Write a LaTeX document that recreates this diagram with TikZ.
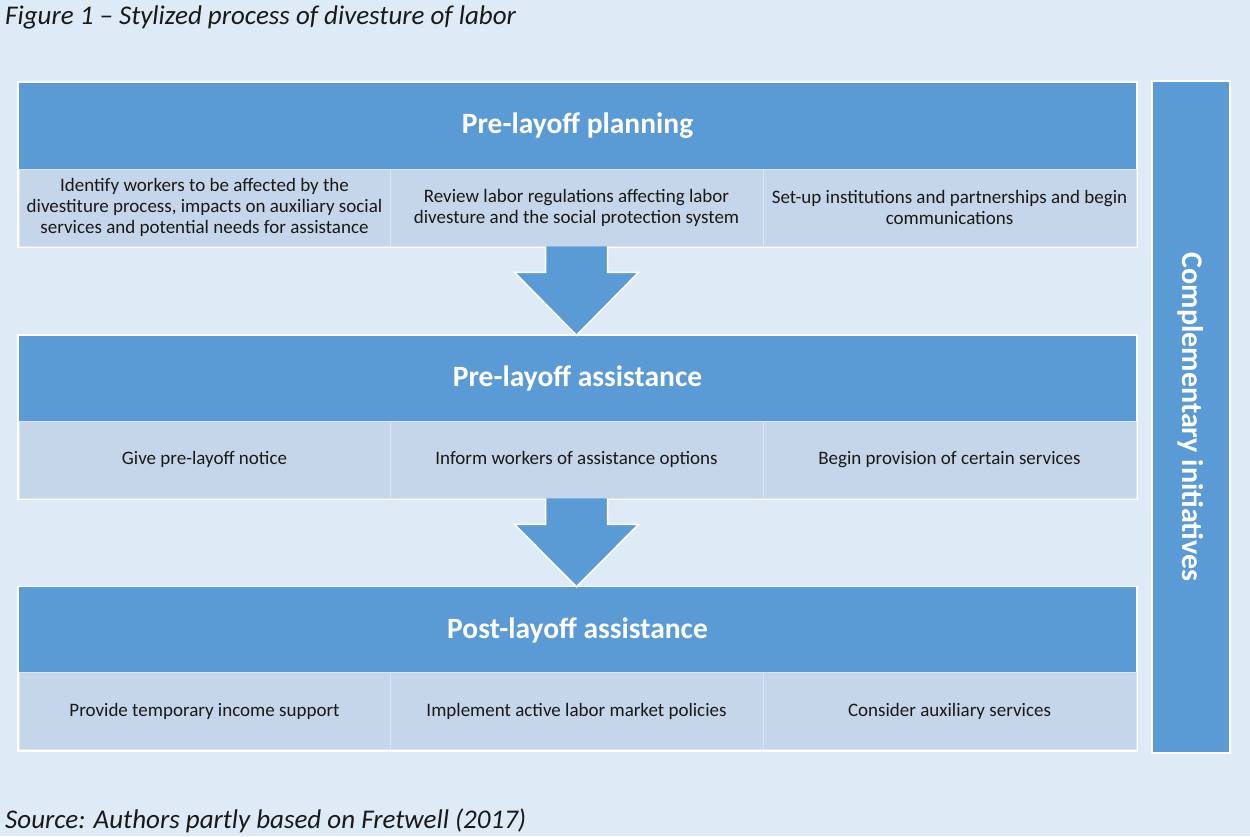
\documentclass[tikz,border=0pt]{standalone}
\usepackage{fontspec}
\setmainfont{Carlito}
\usetikzlibrary{calc}
\definecolor{bgc}{RGB}{222,234,246}
\definecolor{hdr}{RGB}{91,155,213}
\definecolor{cellc}{RGB}{197,214,235}
\definecolor{txt}{RGB}{25,25,25}
\tikzset{
  header/.style={fill=hdr, minimum width=1117pt, minimum height=86pt, inner sep=0pt,
    text=white, font=\fontsize{29.5}{34}\selectfont\bfseries},
  cell/.style={fill=cellc, draw=white!40!cellc, line width=0.8pt, minimum height=77pt, inner sep=0pt,
    align=center, text=txt, font=\fontsize{19}{21}\selectfont},
  bandframe/.style={draw=white, line width=1.5pt},
  blockarrow/.style={fill=hdr, draw=white, line width=1.5pt, line join=miter},
  caption/.style={anchor=west, inner sep=0pt, text=txt, font=\fontsize{27}{31}\selectfont\itshape}
}
\begin{document}
\begin{tikzpicture}[x=1pt,y=-1pt]
\fill[bgc] (0,0) rectangle (1250,836);
\useasboundingbox (0,0) rectangle (1250,836);

\node[caption] (title) at (5,17) {Figure 1 – Stylized process of divesture of labor};
\node[caption] (source) at (5,821) {Source: Authors partly based on Fretwell (2017)};

% Band 1
\draw[bandframe] (18,82) rectangle (1137,247);
\node[header] (h1) at (577.5,126) {Pre-layoff planning};
\node[cell, minimum width=371pt] (c11) at (204.5,207.5) {Identify workers to be affected by the\\divestiture process, impacts on auxiliary social\\services and potential needs for assistance};
\node[cell, minimum width=373pt] (c12) at (576.5,207.5) {Review labor regulations affecting labor\\divesture and the social protection system};
\node[cell, minimum width=373pt] (c13) at (949.5,207.5) {Set-up institutions and partnerships and begin\\communications};

% Band 2
\draw[bandframe] (18,335) rectangle (1137,499);
\node[header] (h2) at (577.5,378.5) {Pre-layoff assistance};
\node[cell, minimum width=371pt] (c21) at (204.5,459.5) {Give pre-layoff notice};
\node[cell, minimum width=373pt] (c22) at (576.5,459.5) {Inform workers of assistance options};
\node[cell, minimum width=373pt] (c23) at (949.5,459.5) {Begin provision of certain services};

% Band 3
\draw[bandframe] (18,587) rectangle (1137,751);
\node[header] (h3) at (577.5,630) {Post-layoff assistance};
\node[cell, minimum width=371pt] (c31) at (204.5,711) {Provide temporary income support};
\node[cell, minimum width=373pt] (c32) at (576.5,711) {Implement active labor market policies};
\node[cell, minimum width=373pt] (c33) at (949.5,711) {Consider auxiliary services};

% Block arrows
\draw[blockarrow] ($(c12.south)+(-31,0)$) -- ($(c12.south)+(-31,26)$) -- ($(c12.south)+(-62,26)$)
  -- (h2.north -| c12.south) -- ($(c12.south)+(62,26)$) -- ($(c12.south)+(31,26)$) -- ($(c12.south)+(31,0)$);
\draw[blockarrow] ($(c22.south)+(-31,0)$) -- ($(c22.south)+(-31,26)$) -- ($(c22.south)+(-62,26)$)
  -- (h3.north -| c22.south) -- ($(c22.south)+(62,26)$) -- ($(c22.south)+(31,26)$) -- ($(c22.south)+(31,0)$);

% Side bar
\node[fill=hdr, draw=white, line width=1.5pt, minimum width=78pt, minimum height=672pt, inner sep=0pt] (side) at (1191,417) {};
\node[rotate=-90, text=white, font=\fontsize{30}{34}\selectfont\bfseries] (sidetext) at (side.center) {Complementary initiatives};
\end{tikzpicture}
\end{document}
